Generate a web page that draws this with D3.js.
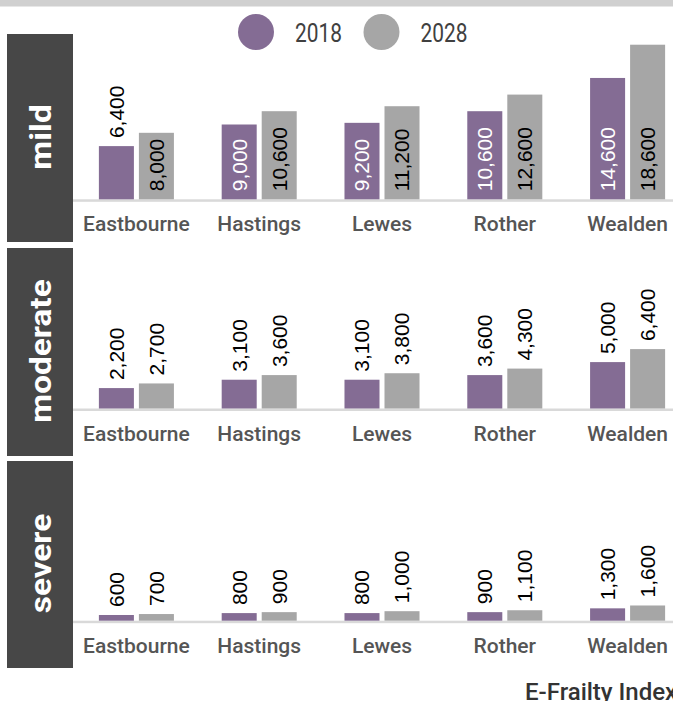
<!DOCTYPE html>
<html>
<head>
<meta charset="utf-8">
<title>E-Frailty Index</title>
<style>
  body { margin: 0; background: #fff; }
  svg { display: block; }
</style>
</head>
<body>
<svg width="673" height="701"></svg>
<script src="https://cdn.jsdelivr.net/npm/d3@7"></script>
<script>
// data
const categories = ["Eastbourne", "Hastings", "Lewes", "Rother", "Wealden"]
const years = ["2018", "2028"]
const severities = ["mild", "moderate", "severe"]
const mild2018 = [6400, 9000, 9200, 10600, 14600]
const mild2028 = [8000, 10600, 11200, 12600, 18600]
const moderate2018 = [2200, 3100, 3100, 3600, 5000]
const moderate2028 = [2700, 3600, 3800, 4300, 6400]
const severe2018 = [600, 800, 800, 900, 1300]
const severe2028 = [700, 900, 1000, 1100, 1600]
const footer = "E-Frailty Index"

const values = {
  mild: [mild2018, mild2028],
  moderate: [moderate2018, moderate2028],
  severe: [severe2018, severe2028]
}

// layout
const panelTop = [34, 248, 461]
const panelH = [208, 208, 207]
const baseY = [199.3, 408.5, 620.7]
const yMax = [18650, 16700, 16300]
const colors = d3.scaleOrdinal().domain(years).range(["#846c94", "#a6a6a6"])

const svg = d3.select("svg")

// top band
svg.append("rect").attr("x", 0).attr("y", 0).attr("width", 673).attr("height", 6.5).attr("fill", "#d0d0d0")

// legend
const lg = svg.append("g").selectAll("g").data(years).enter().append("g")
  .attr("transform", (d, i) => `translate(${256 + i * 125.5}, 32)`)
lg.append("circle").attr("r", 18).attr("fill", d => colors(d))
lg.append("text").attr("x", 39).attr("y", 10)
  .style("font-family", "Roboto, sans-serif").style("font-size", "25px").attr("fill", "#404040")
  .attr("textLength", 47).attr("lengthAdjust", "spacingAndGlyphs")
  .text(d => d)

const x0 = d3.scaleBand().domain(categories).range([75, 689]).paddingInner(0.389).paddingOuter(0.1945)
const x1 = d3.scaleBand().domain(years).range([0, x0.bandwidth()]).paddingInner(0.125)

severities.forEach((sev, si) => {
  const g = svg.append("g").attr("class", "panel-" + sev)
  const y = d3.scaleLinear().domain([0, yMax[si]]).range([baseY[si], baseY[si] - 155])

  // label box
  g.append("rect").attr("x", 7).attr("y", panelTop[si]).attr("width", 66).attr("height", panelH[si])
    .attr("fill", "#474747")
  g.append("text")
    .attr("transform", `translate(41, ${panelTop[si] + panelH[si] / 2 - 1}) rotate(-90)`)
    .attr("text-anchor", "middle").attr("dy", "0.36em")
    .style("font-family", "Roboto, sans-serif").style("font-weight", "bold").style("font-size", "29px")
    .attr("fill", "#fff")
    .text(sev)
    .each(function () {
      d3.select(this).attr("textLength", this.getComputedTextLength() * 1.15).attr("lengthAdjust", "spacingAndGlyphs")
    })

  // baseline
  g.append("rect").attr("x", 73).attr("y", baseY[si]).attr("width", 600).attr("height", 2.5).attr("fill", "#d9d9d9")

  const rows = []
  categories.forEach((c, ci) => years.forEach((yr, yi) => rows.push({ cat: c, year: yr, v: values[sev][yi][ci] })))

  const bars = g.append("g").selectAll("g").data(rows).enter().append("g")
  bars.append("rect")
    .attr("x", d => x0(d.cat) + x1(d.year))
    .attr("y", d => y(d.v))
    .attr("width", x1.bandwidth())
    .attr("height", d => y(0) - y(d.v))
    .attr("fill", d => colors(d.year))

  // value labels, inside the bar when they fit
  bars.append("text")
    .style("font-family", "'Liberation Sans', Arial, sans-serif").style("font-size", "21px")
    .attr("dy", "0.35em")
    .text(d => d3.format(",")(d.v))
    .each(function (d) {
      const len = this.getComputedTextLength()
      const h = y(0) - y(d.v)
      const inside = h >= len + 9
      const cx = x0(d.cat) + x1(d.year) + x1.bandwidth() / 2
      const ty = inside ? y(0) - 8 : y(d.v) - 8
      d3.select(this)
        .attr("transform", `translate(${cx}, ${ty}) rotate(-90)`)
        .attr("fill", inside && d.year === "2018" ? "#fff" : "#000")
    })

  // category labels
  g.append("g").selectAll("text").data(categories).enter().append("text")
    .attr("x", d => x0(d) + x0.bandwidth() / 2)
    .attr("y", baseY[si] + 32)
    .attr("text-anchor", "middle")
    .style("font-family", "Roboto, sans-serif").style("font-size", "21px").style("font-weight", "500")
    .attr("fill", "#555")
    .text(d => d)
})

svg.append("text").attr("x", 525).attr("y", 700)
  .style("font-family", "Roboto, sans-serif").style("font-size", "24px").style("font-weight", "500")
  .attr("fill", "#333")
  .text(footer)
</script>
</body>
</html>
